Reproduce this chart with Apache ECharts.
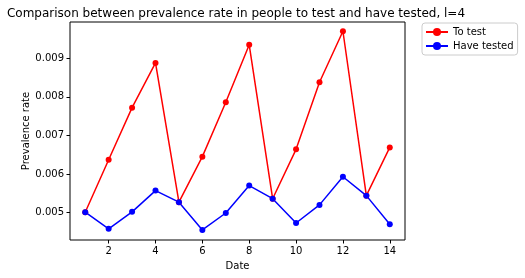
<!DOCTYPE html>
<html><head><meta charset="utf-8">
<script src="https://cdn.jsdelivr.net/npm/echarts@6/dist/echarts.min.js"></script>
<style>html,body{margin:0;padding:0;background:#fff}#c{width:525px;height:278px}</style>
</head><body><div id="c"></div>
<script>
const dates = [1,2,3,4,5,6,7,8,9,10,11,12,13,14];
const toTest = [0.00501,0.00637,0.00772,0.00888,0.00527,0.00645,0.00786,0.00935,0.00536,0.00664,0.00838,0.00970,0.00544,0.00669];
const haveTested = [0.00501,0.00458,0.00502,0.00557,0.00527,0.00455,0.00499,0.00570,0.00536,0.00473,0.00520,0.00593,0.00544,0.00470];
const xTicks = [2,4,6,8,10,12,14];
const yTicks = [0.005,0.006,0.007,0.008,0.009];
const font = 'DejaVu Sans';
const chart = echarts.init(document.getElementById('c'), null, {renderer:'canvas'});
chart.setOption({
  animation:false,
  title:{text:'Comparison between prevalence rate in people to test and have tested, l=4',
    left:231, textAlign:'center', top:3,
    textStyle:{fontFamily:font,fontSize:12,fontWeight:'normal',color:'#000'}},
  legend:{orient:'vertical', left:422, top:23, padding:[4,4,4,3], itemGap:4,
    itemWidth:22, itemHeight:10, borderColor:'#ccc', borderWidth:1, borderRadius:3,
    backgroundColor:'#fff', textStyle:{fontFamily:font,fontSize:10,color:'#000'},
    data:['To test','Have tested']},
  grid:{left:70,right:120,top:22,bottom:38,show:true,borderColor:'#000',borderWidth:1,backgroundColor:'transparent'},
  xAxis:{type:'value',min:0.35,max:14.65,name:'Date',nameLocation:'middle',nameGap:21,
    nameTextStyle:{fontFamily:font,fontSize:10,color:'#000'},
    axisLine:{show:false},splitLine:{show:false},
    axisTick:{show:true,length:3.5,lineStyle:{color:'#000'},customValues:xTicks},
    axisLabel:{fontFamily:font,fontSize:10,color:'#000',margin:6,customValues:xTicks}},
  yAxis:{type:'value',min:0.00429,max:0.00994,name:'Prevalence rate',nameLocation:'middle',nameGap:39,
    nameMoveOverlap:false,
    nameTextStyle:{fontFamily:font,fontSize:10,color:'#000'},
    axisLine:{show:false},splitLine:{show:false},
    axisTick:{show:true,length:3.5,lineStyle:{color:'#000'},customValues:yTicks},
    axisLabel:{fontFamily:font,fontSize:10,color:'#000',margin:6,customValues:yTicks,
      formatter:v=>v.toFixed(3)}},
  series:[
    {name:'To test',type:'line',data:dates.map((d,i)=>[d,toTest[i]]),symbol:'circle',symbolSize:6,
      color:'#ff0000',lineStyle:{width:1.5,color:'#ff0000'},itemStyle:{color:'#ff0000'}},
    {name:'Have tested',type:'line',data:dates.map((d,i)=>[d,haveTested[i]]),symbol:'circle',symbolSize:6,
      color:'#0000ff',lineStyle:{width:1.5,color:'#0000ff'},itemStyle:{color:'#0000ff'}}
  ]
});
</script></body></html>
